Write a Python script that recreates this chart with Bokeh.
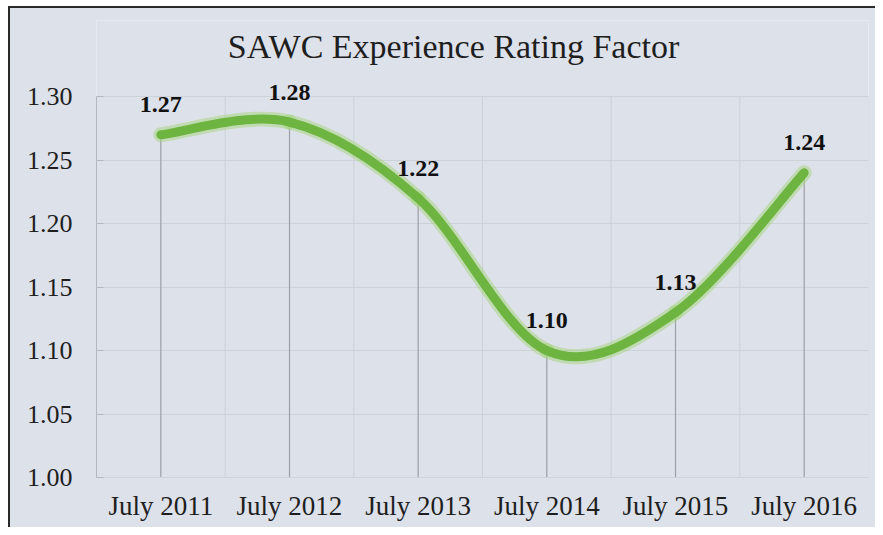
from bokeh.plotting import figure
from bokeh.models import (Range1d, FixedTicker, NumeralTickFormatter, ColumnDataSource,
                          LabelSet, Label, InlineStyleSheet)
from bokeh.embed import file_html
from bokeh.resources import INLINE

categories = ["July 2011", "July 2012", "July 2013", "July 2014", "July 2015", "July 2016"]
values = [1.27, 1.28, 1.22, 1.10, 1.13, 1.24]
labels = ["1.27", "1.28", "1.22", "1.10", "1.13", "1.24"]
y_ticks = [1.00, 1.05, 1.10, 1.15, 1.20, 1.25, 1.30]
title_text = "SAWC Experience Rating Factor"

BG = "#dde1ea"
SERIF = "Liberation Serif"

n = len(categories)
xs = list(range(n))

# Catmull-Rom style smoothing converted to cubic Bezier segments (like Excel's smoothed line)
def pt(i):
    i = max(0, min(n - 1, i))
    return xs[i], values[i]

x0, y0, x1, y1, cx0, cy0, cx1, cy1 = [], [], [], [], [], [], [], []
for i in range(n - 1):
    pa, pb, pc, pd = pt(i - 1), pt(i), pt(i + 1), pt(i + 2)
    x0.append(pb[0]); y0.append(pb[1])
    x1.append(pc[0]); y1.append(pc[1])
    cx0.append(pb[0] + (pc[0] - pa[0]) / 6); cy0.append(pb[1] + (pc[1] - pa[1]) / 6)
    cx1.append(pc[0] - (pd[0] - pb[0]) / 6); cy1.append(pc[1] - (pd[1] - pb[1]) / 6)
bez = ColumnDataSource(dict(x0=x0, y0=y0, x1=x1, y1=y1, cx0=cx0, cy0=cy0, cx1=cx1, cy1=cy1))

pts = ColumnDataSource(dict(x=xs, y=values, base=[y_ticks[0]] * n, lab=labels))
bounds = [i - 0.5 for i in range(n + 1)]
bnd = ColumnDataSource(dict(x=bounds, b=[y_ticks[0]] * len(bounds), t=[y_ticks[-1]] * len(bounds)))

p = figure(width=875, height=527, output_backend="svg", toolbar_location=None,
           x_range=Range1d(-0.5, n - 0.5), y_range=Range1d(y_ticks[0], 1.36),
           min_border_left=96, min_border_right=7, min_border_top=20, min_border_bottom=50)
p.background_fill_color = BG
p.border_fill_color = BG
p.outline_line_color = None
p.stylesheets = [InlineStyleSheet(css=(
    ":host{position:relative;}"
    ":host::before{content:'';position:absolute;left:0;top:0;right:0;bottom:0;"
    "border-top:6px solid #ffffff;border-left:8px solid #ffffff;pointer-events:none;z-index:20;}"
    ":host::after{content:'';position:absolute;left:8px;top:6px;right:0;bottom:0;"
    "border-top:2px solid #2a2a2a;border-left:2px solid #2a2a2a;pointer-events:none;z-index:21;}"))]

# y axis
p.yaxis.ticker = FixedTicker(ticks=y_ticks)
p.yaxis.bounds = (y_ticks[0], y_ticks[-1])
p.yaxis.formatter = NumeralTickFormatter(format="0.00")
p.yaxis.major_label_text_font = SERIF
p.yaxis.major_label_text_font_size = "26px"
p.yaxis.major_label_text_color = "#1e1e1e"
p.yaxis.axis_line_color = "#b4b7bd"
p.yaxis.major_tick_line_color = "#b4b7bd"
p.yaxis.major_tick_in = 7
p.yaxis.major_tick_out = 0
p.yaxis.minor_tick_line_color = None
p.yaxis.major_label_standoff = 24

# x axis
p.xaxis.ticker = FixedTicker(ticks=xs)
p.xaxis.major_label_overrides = {i: c for i, c in zip(xs, categories)}
p.xaxis.major_label_text_font = SERIF
p.xaxis.major_label_text_font_size = "27px"
p.xaxis.major_label_text_color = "#1e1e1e"
p.xaxis.axis_line_color = "#cfd3da"
p.xaxis.major_tick_line_color = None
p.xaxis.minor_tick_line_color = None
p.xaxis.major_label_standoff = 7

# grids
p.ygrid.ticker = FixedTicker(ticks=y_ticks[1:])
p.ygrid.grid_line_color = "#cdd1d8"
p.ygrid.grid_line_width = 1
p.xgrid.grid_line_color = None
p.segment(x0="x", y0="b", x1="x", y1="t", source=bnd, line_color="#cdd1d8", line_width=1)

# drop lines
p.segment(x0="x", y0="base", x1="x", y1="y", source=pts, line_color="#9c9fa5", line_width=1.2)

# smoothed line with soft glow
p.bezier(x0="x0", y0="y0", x1="x1", y1="y1", cx0="cx0", cy0="cy0", cx1="cx1", cy1="cy1",
         source=bez, line_color="#a3d57a", line_width=15, line_alpha=0.5, line_cap="round")
p.bezier(x0="x0", y0="y0", x1="x1", y1="y1", cx0="cx0", cy0="cy0", cx1="cx1", cy1="cy1",
         source=bez, line_color="#6eb440", line_width=9, line_cap="round")

p.add_layout(LabelSet(x="x", y="y", text="lab", source=pts, y_offset=30,
                      text_align="center", text_baseline="middle",
                      text_font=SERIF, text_font_size="24px", text_font_style="bold",
                      text_color="#111111"))

p.add_layout(Label(x=(xs[0] + xs[-1]) / 2 - 0.225, y=1.3394, text=title_text,
                   text_align="center", text_baseline="middle",
                   text_font=SERIF, text_font_size="34px", text_color="#1e1e1e"))

open("out.html", "w").write(file_html(p, INLINE))
